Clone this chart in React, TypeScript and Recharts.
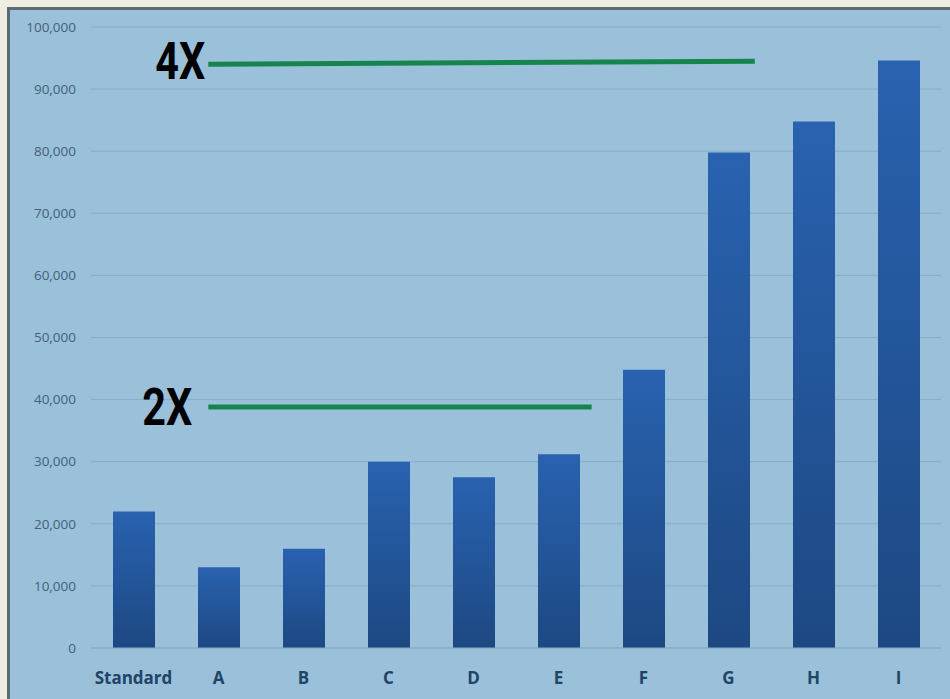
import { Bar, BarChart, CartesianGrid, ReferenceLine, XAxis, YAxis } from 'recharts';

const categories = ['Standard', 'A', 'B', 'C', 'D', 'E', 'F', 'G', 'H', 'I'];
const values = [22000, 13000, 16000, 30000, 27500, 31200, 44800, 79800, 84800, 94600];
const yTicks = [0, 10000, 20000, 30000, 40000, 50000, 60000, 70000, 80000, 90000, 100000];

// target lines; x is measured in category positions (0 = Standard, 9 = I)
const line4x = [
  { x: 0.88, y: 94000 },
  { x: 7.31, y: 94500 },
];
const line2x = [
  { x: 0.88, y: 38800 },
  { x: 5.39, y: 38800 },
];

const data = categories.map((name, i) => ({ name, value: values[i] }));

// narrow bold marker text left of the line start
const markLabel = (text: string, gap: number) => (props: any) => {
  const vb = props.viewBox || {};
  return (
    <text
      x={vb.x - gap}
      y={vb.y}
      textAnchor="end"
      dominantBaseline="central"
      fill="#000"
      fontSize={52}
      fontWeight={700}
      fontFamily="Roboto, sans-serif"
      textLength={50}
      lengthAdjust="spacingAndGlyphs"
    >
      {text}
    </text>
  );
};

export default function App() {
  return (
    <div style={{ position: 'fixed', left: 0, top: 0, width: 950, height: 699, background: '#efece1', overflow: 'hidden' }}>
      <div
        style={{
          position: 'absolute',
          left: 7,
          top: 7,
          width: 950,
          height: 699,
          background: '#9bc0da',
          border: '3px solid #5a6a74',
        }}
      />
      <div style={{ position: 'absolute', left: 0, top: 0 }}>
        <BarChart width={950} height={699} data={data} margin={{ top: 27, right: 9, bottom: 0, left: 0 }} barSize={42}>
          <defs>
            <linearGradient id="barFill" x1="0" y1="0" x2="0" y2="1">
              <stop offset="0%" stopColor="#2962b0" />
              <stop offset="100%" stopColor="#1d4882" />
            </linearGradient>
          </defs>
          <CartesianGrid vertical={false} stroke="#87acc8" />
          <XAxis
            dataKey="name"
            height={51}
            tickLine={false}
            axisLine={{ stroke: '#87acc8' }}
            tickMargin={18}
            tick={{ fill: '#1f4466', fontSize: 17, fontWeight: 700, fontFamily: '"Open Sans", sans-serif' }}
          />
          <XAxis
            xAxisId="n"
            type="number"
            domain={[0, 9]}
            padding={{ left: 42.5, right: 42.5 }}
            allowDataOverflow
            hide
          />
          <YAxis
            width={91}
            domain={[0, 100000]}
            ticks={yTicks}
            tickLine={false}
            axisLine={false}
            tickFormatter={(v: number) => v.toLocaleString('en-US')}
            tick={{ fill: '#41607c', fontSize: 13.5, fontFamily: '"Open Sans", sans-serif', dx: -7 }}
          />
          <Bar dataKey="value" fill="url(#barFill)" isAnimationActive={false} />
          <ReferenceLine
            xAxisId="n"
            segment={line4x}
            stroke="#15854d"
            strokeWidth={5}
            label={{ content: markLabel('4X', 3) }}
          />
          <ReferenceLine
            xAxisId="n"
            segment={line2x}
            stroke="#15854d"
            strokeWidth={5}
            label={{ content: markLabel('2X', 16) }}
          />
        </BarChart>
      </div>
    </div>
  );
}
